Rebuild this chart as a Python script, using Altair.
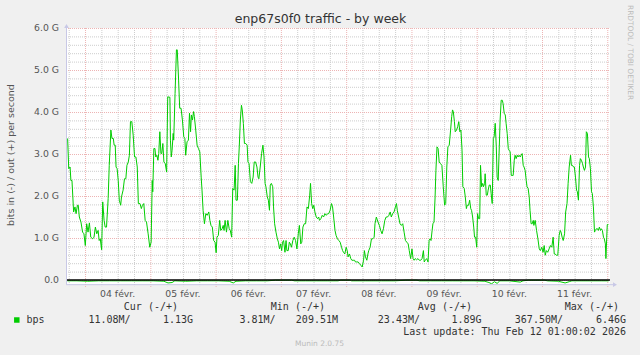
import altair as alt
import pandas as pd

W, H = 544, 256.2

# time = hours since 03 Feb 17:00, value = Gbit/s (out, +)
out_d1 = [(0.6,3.37),(1.0,2.65),(1.5,2.69),(1.8,2.37),(2.2,2.37),(2.8,1.62),(3.3,1.74),(3.7,1.58),(4.2,1.78),(4.5,1.78),
          (4.9,1.50),(5.5,1.38),(6.1,1.14),(6.6,1.10),(7.1,0.82),(7.6,1.34),(8.1,1.14),(8.6,1.36),(9.1,1.02),(9.8,0.98),
          (10.3,1.02),(10.8,1.26),(11.3,1.10),(11.8,1.18),(12.2,0.94),(12.6,0.98),(13.1,0.72),(13.5,1.86),(14.0,1.42),(14.4,1.26),
          (14.9,1.26),(15.5,1.94),(15.9,2.73),(16.5,3.57),(16.9,3.37),(17.4,3.37),(17.7,3.21),(18.1,3.21),(18.4,2.69),(18.8,2.65),
          (19.2,2.37),(19.6,1.90),(20.1,1.78),(20.4,1.98),(21.0,2.14),(21.5,2.41),(22.0,2.41),(22.4,2.73),(22.9,2.81),(23.3,2.97),
          (23.7,3.77),(24.2,3.77),(24.7,3.45),(25.2,2.93),(25.7,2.93),(26.2,2.69),(26.6,1.82),(27.2,1.82),(27.7,1.70),(28.1,1.78)]
out_d2 = [(28.6,1.82),(29.1,1.42),(29.6,1.38),(30.2,1.10),(30.8,0.78),(31.3,0.90),(31.7,2.37),(31.9,2.10),(32.3,3.13),(32.7,3.13),
          (33.0,2.93),(33.4,2.97),(33.8,2.85),(34.1,3.01),(34.5,3.53),(34.9,3.01),(35.2,3.01),(35.6,3.25),(36.0,2.81),(36.5,2.77),
          (37.0,2.57),(37.4,4.36),(38.2,4.35),(38.4,3.33),(38.7,2.93),(39.0,3.09),(39.4,3.49),(39.6,3.33),(40.1,4.44),(40.6,5.48),
          (40.9,5.48),(41.4,4.76),(41.8,4.09),(42.3,4.09),(42.8,3.81),(43.3,3.41),(43.7,3.37),(44.0,2.97),(44.5,3.29),(45.0,3.33),
          (45.4,3.97),(45.8,3.53),(46.1,3.93),(46.5,3.81),(46.9,4.01),(47.2,3.89),(47.7,3.57),(48.2,3.21),(48.7,3.13),(49.2,3.05),
          (49.7,2.45),(50.0,2.14),(50.4,1.66),(50.9,1.34),(51.4,1.58),(51.9,1.54),(52.5,1.62),(52.9,1.42),(53.3,1.30),(53.8,1.26),
          (54.3,0.94),(54.8,0.90),(55.2,0.65),(55.5,1.02),(56.0,1.06),(56.5,1.42),(56.9,1.18),(57.4,1.22)]
out_d3 = [(57.8,1.30),(58.1,1.18),(58.5,1.42),(59.0,1.14),(59.5,1.42),(60.0,1.22),(60.4,1.18),(60.9,1.02),(61.3,2.18),(61.8,2.14),
          (62.2,2.73),(62.5,1.90),(63.0,1.90),(63.4,2.77),(63.7,3.17),(64.1,3.81),(64.5,4.16),(64.8,4.05),(65.2,3.73),(65.6,3.25),
          (66.1,3.25),(66.6,3.21),(66.9,2.81),(67.3,2.77),(67.8,2.34),(68.3,2.30),(68.8,2.45),(69.2,2.81),(69.7,2.81),(70.2,2.69),
          (70.6,2.45),(70.9,2.41),(71.4,2.69),(71.9,3.01),(72.4,3.21),(72.8,2.93),(73.2,2.30),(73.5,2.22),(74.0,1.98),(74.4,1.90),
          (74.8,1.66),(75.1,2.26),(75.5,2.30),(76.0,2.22),(76.3,1.74),(76.7,1.34),(77.2,1.14),(77.7,0.98),(78.1,0.90),(78.5,0.74),
          (78.9,0.86),(79.3,0.70),(79.6,0.90),(80.0,0.94),(80.5,0.66),(80.9,0.94),(81.2,0.70),(81.7,0.70),(82.1,0.90),(82.5,0.86),
          (82.9,0.78),(83.4,0.94),(83.9,1.02),(84.4,0.94),(84.9,0.74),(85.4,1.10),(85.8,1.30)]
out_d4 = [(86.3,0.86),(86.7,0.90),(87.1,1.26),(87.6,1.34),(88.1,1.34),(88.6,1.74),(89.1,1.70),(89.6,2.02),(89.9,2.30),(90.3,1.82),
          (90.7,1.70),(91.1,1.78),(91.5,1.62),(92.0,1.50),(92.5,1.46),(92.9,1.50),(93.2,1.42),(93.7,1.46),(94.2,1.54),(94.7,1.50),
          (95.2,1.58),(95.7,1.54),(96.2,1.58),(96.6,1.58),(97.1,1.66),(97.6,1.82),(98.0,1.74),(98.4,1.50),(98.9,1.18),(99.3,1.06),
          (99.8,0.98),(100.3,0.94),(100.8,0.90),(101.3,0.78),(101.7,0.70),(102.0,0.66),(102.5,0.62),(103.0,0.78),(103.4,0.70),(103.7,0.55),
          (104.2,0.62),(104.7,0.51),(105.1,0.47),(105.6,0.47),(106.1,0.47),(106.4,0.43),(106.9,0.43),(107.4,0.43),(107.9,0.39),(108.4,0.35),
          (108.9,0.31),(109.4,0.47),(109.7,0.70),(110.1,0.55),(110.6,0.47),(111.0,0.62),(111.3,0.70),(111.8,0.78),(112.3,0.98),(112.8,0.98),
          (113.3,1.02),(113.6,1.34),(114.1,1.50)]
out_d5 = [(114.7,1.38),(115.2,1.30),(115.7,1.18),(116.2,1.10),(116.7,1.22),(117.2,1.42),(117.7,1.50),(118.2,1.50),(118.7,1.54),(119.2,1.62),
          (119.6,1.50),(120.1,1.58),(120.6,1.62),(121.1,1.74),(121.5,1.82),(121.8,1.66),(122.3,1.50),(122.8,1.34),(123.3,1.30),(123.8,1.34),
          (124.3,1.14),(124.8,0.94),(125.3,0.90),(125.8,0.86),(126.2,0.70),(126.7,0.51),(127.2,0.74),(127.6,0.51),(128.0,0.47),(128.4,0.51),
          (128.9,0.48),(129.4,0.51),(129.9,0.47),(130.4,0.47),(130.9,0.51),(131.4,0.70),(131.7,0.43),(132.1,0.47),(132.6,0.51),(133.1,0.43),
          (133.5,0.94),(133.8,0.98),(134.2,0.94),(134.6,1.18),(134.9,1.34),(135.3,1.38),(135.7,1.98),(136.0,2.61),(136.4,3.17),(136.8,3.13),
          (137.2,2.81),(137.7,2.77),(138.2,2.73),(138.7,2.22),(139.2,1.78),(139.6,1.82),(140.0,2.69),(140.4,3.17),(140.9,3.21),(141.4,3.57),
          (141.8,3.89),(142.1,4.05)]
out_d6 = [(142.4,4.01),(142.8,3.77),(143.1,3.53),(143.6,3.57),(144.0,3.65),(144.4,3.77),(144.8,3.53),(145.2,3.57),(145.6,3.09),(145.9,2.22),
          (146.4,2.18),(146.8,1.98),(147.2,1.70),(147.5,1.78),(148.0,1.78),(148.4,1.90),(148.8,1.70),(149.1,1.66),(149.5,1.50),(149.9,1.26),
          (150.2,1.02),(150.6,1.02),(151.0,0.78),(151.3,1.58),(151.7,1.46),(152.1,1.46),(152.4,2.73),(152.8,2.22),(153.2,2.30),(153.5,2.22),
          (153.9,2.30),(154.1,2.53),(154.5,2.02),(154.9,2.02),(155.2,2.14),(155.6,2.26),(156.0,2.26),(156.3,2.06),(156.7,1.82),(157.1,3.37),
          (157.4,3.41),(157.8,3.73),(158.2,3.17),(158.5,2.45),(158.9,2.37),(159.3,3.17),(159.6,3.81),(160.0,4.28),(160.4,4.28),(160.7,4.20),
          (161.1,3.97),(161.5,3.93),(161.8,3.73),(162.2,3.49),(162.6,3.13),(162.9,3.09),(163.3,3.05),(163.7,2.49),(164.0,2.49),(164.4,2.49),
          (164.8,2.85),(165.1,2.97),(165.5,2.89),(165.9,2.97),(166.2,2.93),(166.6,2.97),(167.0,2.93),(167.3,2.97),(167.7,3.01),(168.1,2.73),
          (168.4,2.69),(168.8,2.61),(169.2,2.37),(169.5,2.22),(169.9,2.18),(170.3,1.98),(170.6,1.66),(171.0,1.34),(171.4,1.34),(171.8,1.42)]
out_d7 = [(172.0,1.30),(172.5,1.42),(173.0,1.18),(173.5,0.98),(174.0,0.74),(174.4,0.70),(174.9,0.78),(175.4,0.66),(175.8,0.82),(176.2,0.59),
          (176.6,0.70),(177.1,0.66),(177.6,0.74),(178.1,0.82),(178.6,0.78),(179.1,1.02),(179.5,0.62),(179.8,0.62),(180.3,0.59),(180.8,0.59),
          (181.3,1.06),(181.7,1.18),(182.0,1.14),(182.4,1.02),(182.8,0.94),(183.3,1.10),(183.7,1.62),(184.2,1.82),(184.6,2.30),(185.0,2.69),
          (185.5,2.97),(185.8,2.73),(186.2,2.73),(186.6,2.69),(186.9,2.69),(187.3,2.45),(187.7,2.14),(188.0,2.10),(188.4,1.90),(188.8,2.73),
          (189.1,2.89),(189.5,2.85),(189.9,2.77),(190.2,2.69),(190.6,2.61),(191.0,2.69),(191.3,3.53),(191.7,3.49),(192.1,2.93),(192.4,2.89),
          (192.8,2.65),(193.2,2.10),(193.5,2.06),(193.9,1.74),(194.3,1.14),(194.6,1.18),(195.0,1.22),(195.4,1.22),(195.7,1.18),(196.1,1.26),
          (196.5,1.18),(196.8,1.22),(197.2,1.18),(197.6,1.02),(197.9,0.98),(198.3,0.86),(198.5,0.51),(198.8,1.02),(199.0,1.32),(199.4,1.32)]

# in (-) series, Gbit/s
in_pts = [(0.5,-0.02),(4,-0.02),(8,-0.03),(12,-0.02),(16,-0.02),(20,-0.02),(24,-0.02),(28,-0.02),(32,-0.02),(36,-0.03),
          (37.5,-0.07),(39,-0.06),(40,-0.02),(44,-0.03),(48,-0.02),(52,-0.02),(56,-0.02),(60,-0.03),(61.5,-0.07),(62.5,-0.03),
          (66,-0.02),(70,-0.02),(74,-0.02),(77,-0.005),(83,-0.005),(84,-0.02),(88,-0.02),(92,-0.02),(96,-0.02),(100,-0.02),
          (101,-0.005),(104.5,-0.005),(105,-0.02),(110,-0.02),(116,-0.02),(121,-0.02),(125,-0.005),(129,-0.005),(130,-0.02),(134,-0.02),
          (138,-0.02),(142,-0.02),(146,-0.02),(150,-0.02),(154,-0.03),(155.5,-0.06),(156.5,-0.09),(157.5,-0.04),(158.5,-0.08),(159.5,-0.02),
          (163,-0.02),(167,-0.05),(168,-0.02),(170,-0.005),(176,-0.005),(177,-0.02),(181,-0.03),(183.5,-0.07),(185,-0.04),(186,-0.02),
          (193,-0.02),(197,-0.02),(199.5,-0.02)]

y_minor = [0.2,0.4,0.6,0.8,1.2,1.4,1.6,1.8,2.2,2.4,2.6,2.8,3.2,3.4,3.6,3.8,4.2,4.4,4.6,4.8,5.2,5.4,5.6,5.8]
y_major = [0,1,2,3,4,5,6]
y_labels = ["0.0","1.0 G","2.0 G","3.0 G","4.0 G","5.0 G","6.0 G"]
x_minor = [1,13,19,25,37,43,49,61,67,73,85,91,97,109,115,121,133,139,145,157,163,169,181,187,193]
x_major = [7,31,55,79,103,127,151,175,199]
x_label_pos = [19,43,67,91,115,139,163,187]
day_labels = ["04 févr.","05 févr.","06 févr.","07 févr.","08 févr.","09 févr.","10 févr.","11 févr."]

legend_heads = ["Cur (-/+)","Min (-/+)","Avg (-/+)","Max (-/+)"]
legend_in = ["11.08M/","3.81M/","23.43M/","367.50M/"]
legend_out = ["1.13G","209.51M","1.89G","6.46G"]

out_rows = []
for seg in [out_d1,out_d2,out_d3,out_d4,out_d5,out_d6,out_d7]:
    out_rows += [{"t": t, "v": v} for t, v in seg]
out_df = pd.DataFrame(out_rows)
in_df = pd.DataFrame([{"t": t, "v": v} for t, v in in_pts])

xs = alt.Scale(domain=[0, 200], nice=False, zero=False)
ys = alt.Scale(domain=[-0.1, 6.0], nice=False, zero=False)
FONT = "DejaVu Sans"
MONO = "DejaVu Sans Mono"
GREEN = "#00CC00"
MINOR = "#CDCDCD"
MAJOR = "#EDB4B4"

# horizontal grid drawn as two-point dashed lines (one line per grid value)
hmin_rows = [{"g": v, "v": v, "t": tt} for v in y_minor for tt in (0, 200)]
hmaj_rows = [{"g": v, "v": v, "t": tt} for v in y_major for tt in (0, 200)]
hminor = alt.Chart(pd.DataFrame(hmin_rows)).mark_line(color=MINOR, strokeDash=[1, 1], strokeWidth=1, yOffset=0.5).encode(
    x=alt.X("t:Q", scale=xs, axis=None), y=alt.Y("v:Q", scale=ys, axis=None), detail="g:N")
hmajor = alt.Chart(pd.DataFrame(hmaj_rows)).mark_line(color=MAJOR, strokeDash=[1, 1], strokeWidth=1, yOffset=0.5).encode(
    x=alt.X("t:Q", scale=xs, axis=None), y=alt.Y("v:Q", scale=ys, axis=None), detail="g:N")
vminor = alt.Chart(pd.DataFrame({"t": x_minor})).mark_rule(color=MINOR, strokeDash=[1, 1], strokeWidth=1, xOffset=0.5).encode(
    x=alt.X("t:Q", scale=xs, axis=None), y=alt.value(0), y2=alt.value(H + 2))
vmajor = alt.Chart(pd.DataFrame({"t": x_major})).mark_rule(color=MAJOR, strokeDash=[1, 1], strokeWidth=1, xOffset=0.5).encode(
    x=alt.X("t:Q", scale=xs, axis=None), y=alt.value(0), y2=alt.value(H + 3))

out_line = alt.Chart(out_df).mark_line(color=GREEN, strokeWidth=1, clip=True).encode(
    x=alt.X("t:Q", scale=xs, axis=None), y=alt.Y("v:Q", scale=ys, axis=None))
in_line = alt.Chart(in_df).mark_line(color=GREEN, strokeWidth=1, clip=True).encode(
    x=alt.X("t:Q", scale=xs, axis=None), y=alt.Y("v:Q", scale=ys, axis=None))
zero = alt.Chart(pd.DataFrame({"v": [0]})).mark_rule(color="#000000", strokeWidth=1.5).encode(
    y=alt.Y("v:Q", scale=ys, axis=None), x=alt.value(0), x2=alt.value(W))

ylab = alt.Chart(pd.DataFrame({"v": y_major, "lab": y_labels})).mark_text(
    font=FONT, fontSize=9.3, color="#555555", baseline="middle", align="right").encode(
    y=alt.Y("v:Q", scale=ys, axis=None), x=alt.value(-7), text="lab:N")
xlabels = alt.Chart(pd.DataFrame({"t": x_label_pos, "lab": day_labels})).mark_text(
    font=FONT, fontSize=9.3, color="#555555", baseline="middle", align="center").encode(
    x=alt.X("t:Q", scale=xs, axis=None), y=alt.value(H + 9.5), text="lab:N")

one = pd.DataFrame({"a": [0]})
axis_col = "#C8C8E6"
left_axis = alt.Chart(one).mark_rule(color=axis_col, strokeWidth=1).encode(
    x=alt.value(0.5), y=alt.value(-2), y2=alt.value(H))
bottom_axis = alt.Chart(one).mark_rule(color=axis_col, strokeWidth=1).encode(
    x=alt.value(0), x2=alt.value(W + 3), y=alt.value(H + 0.5))
up_arrow = alt.Chart(one).mark_point(shape="triangle-up", filled=True, color=axis_col, size=22, opacity=1).encode(
    x=alt.value(0.5), y=alt.value(-2))
right_arrow = alt.Chart(one).mark_point(shape="triangle-right", filled=True, color=axis_col, size=22, opacity=1).encode(
    x=alt.value(W + 5), y=alt.value(H + 0.5))

def txt(s, x, y, align="left", font=MONO, size=10, color="#333333", angle=0):
    return alt.Chart(one).mark_text(text=s, font=font, fontSize=size, color=color, align=align,
                                    baseline="middle", angle=angle).encode(x=alt.value(x), y=alt.value(y))

ox, oy = 66, 28
texts = [
    txt("enp67s0f0 traffic - by week", 320.5 - ox, 19 - oy, align="center", font=FONT, size=12.5, color="#333333"),
    txt("RRDTOOL / TOBI OETIKER", 630 - ox, 5 - oy, align="left", font=FONT, size=7.4, color="#BBBBBB", angle=90),
    txt("bits in (-) / out (+) per second", 11 - ox, 155 - oy, align="center", font=FONT, size=9.5, color="#555555", angle=270),
    txt("bps", 26.5 - ox, 320 - oy),
    txt("Last update: Thu Feb 12 01:00:02 2026", 626 - ox, 332 - oy, align="right"),
    txt("Munin 2.0.75", 319.5 - ox, 344 - oy, align="center", font=FONT, size=7.5, color="#BBBBBB"),
]
head_right = [178, 325, 472, 619]
in_right = [130.6, 275.5, 420, 563]
out_right = [193, 338, 481.6, 626]
for i in range(4):
    texts.append(txt(legend_heads[i], head_right[i] - ox, 307 - oy, align="right"))
    texts.append(txt(legend_in[i], in_right[i] - ox, 320 - oy, align="right"))
    texts.append(txt(legend_out[i], out_right[i] - ox, 320 - oy, align="right"))

swatch = alt.Chart(one).mark_square(color=GREEN, size=30, opacity=1).encode(
    x=alt.value(16.8 - ox), y=alt.value(320 - oy))

chart = alt.layer(
    hminor, vminor, hmajor, vmajor, out_line, in_line, zero,
    left_axis, bottom_axis, up_arrow, right_arrow, ylab, xlabels, swatch, *texts
).properties(
    width=W, height=H,
    padding={"left": ox, "top": oy, "right": 640 - ox - W, "bottom": 355 - oy - H},
    autosize=alt.AutoSizeParams(type="none"),
    background="#F0F0F0",
).configure_view(stroke=None, fill="white")

chart.save("out.html", embed_options={"renderer": "svg", "actions": False})
